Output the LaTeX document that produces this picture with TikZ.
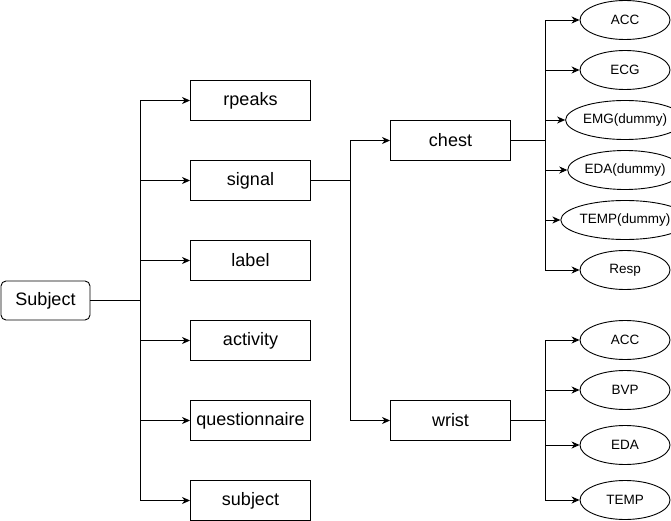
\documentclass[tikz,border=0pt]{standalone}
\usepackage{fontspec}
\setmainfont{Liberation Sans}
\usepackage{tikz}
\usetikzlibrary{shapes.geometric}
\usetikzlibrary{arrows.meta}
\tikzset{caja/.style={rectangle, draw, line width=0.9pt, minimum width=120pt, minimum height=40pt, inner sep=0pt, font=\fontsize{18}{20}\selectfont}}
\tikzset{hoja/.style={ellipse, draw, line width=0.9pt, minimum width=90pt, minimum height=39pt, inner sep=0pt, font=\fontsize{13.5}{15}\selectfont}}
\tikzset{flecha/.style={line width=0.9pt, -{Stealth[length=8pt, width=7pt, inset=2.5pt]}}}

\begin{document}
\begin{tikzpicture}[x=1pt, y=-1pt]
        \useasboundingbox (0,0) rectangle (671,521);
        %% Raiz
        \node[caja, rounded corners=5pt, minimum width=89pt, minimum height=39pt] (sub) at (45.5,300.5) {Subject};
        % Campos
        \node[caja] (1_b1) at (250.5,100.5) {rpeaks};
        \node[caja] (1_b2) at (250.5,180.5) {signal};
        \node[caja] (1_b3) at (250.5,260.5) {label};
        \node[caja] (1_b4) at (250.5,340.5) {activity};
        \node[caja] (1_b5) at (250.5,420.5) {questionnaire};
        \node[caja] (1_b6) at (250.5,500.5) {subject};
        % Aristas
        \coordinate (1_t) at (140,300.5);
        \draw[flecha] (sub) -- (1_t) |- (1_b1);
        \draw[flecha] (sub) -- (1_t) |- (1_b2);
        \draw[flecha] (sub) -- (1_t) |- (1_b3);
        \draw[flecha] (sub) -- (1_t) |- (1_b4);
        \draw[flecha] (sub) -- (1_t) |- (1_b5);
        \draw[flecha] (sub) -- (1_t) |- (1_b6);

        %% Dispositivos
        \node[caja] (2_c) at (450.5,140.5) {chest};
        \node[caja] (2_w) at (450.5,420.5) {wrist};
        % Aristas
        \coordinate (2_t) at (350,180.5);
        \draw[flecha] (1_b2) -- (2_t) |- (2_c);
        \draw[flecha] (1_b2) -- (2_t) |- (2_w);

        %% Senales de chest
        \node[hoja] (3_c1) at (625,20) {ACC};
        \node[hoja] (3_c2) at (625,70) {ECG};
        \node[hoja] (3_c3) at (625,120) {EMG(dummy)};
        \node[hoja] (3_c4) at (625,170) {EDA(dummy)};
        \node[hoja] (3_c5) at (625,220) {TEMP(dummy)};
        \node[hoja] (3_c6) at (625,270) {Resp};
        % Aristas
        \coordinate (3_t) at (545,140.5);
        \draw[flecha] (2_c) -- (3_t) |- (3_c1);
        \draw[flecha] (2_c) -- (3_t) |- (3_c2);
        \draw[flecha] (2_c) -- (3_t) |- (3_c3);
        \draw[flecha] (2_c) -- (3_t) |- (3_c4);
        \draw[flecha] (2_c) -- (3_t) |- (3_c5);
        \draw[flecha] (2_c) -- (3_t) |- (3_c6);

        %% Senales de wrist
        \node[hoja] (4_w1) at (625,340) {ACC};
        \node[hoja] (4_w2) at (625,390) {BVP};
        \node[hoja] (4_w3) at (625,445) {EDA};
        \node[hoja] (4_w4) at (625,500) {TEMP};
        % Aristas
        \coordinate (4_t) at (545,420.5);
        \draw[flecha] (2_w) -- (4_t) |- (4_w1);
        \draw[flecha] (2_w) -- (4_t) |- (4_w2);
        \draw[flecha] (2_w) -- (4_t) |- (4_w3);
        \draw[flecha] (2_w) -- (4_t) |- (4_w4);
    \end{tikzpicture}
\end{document}
